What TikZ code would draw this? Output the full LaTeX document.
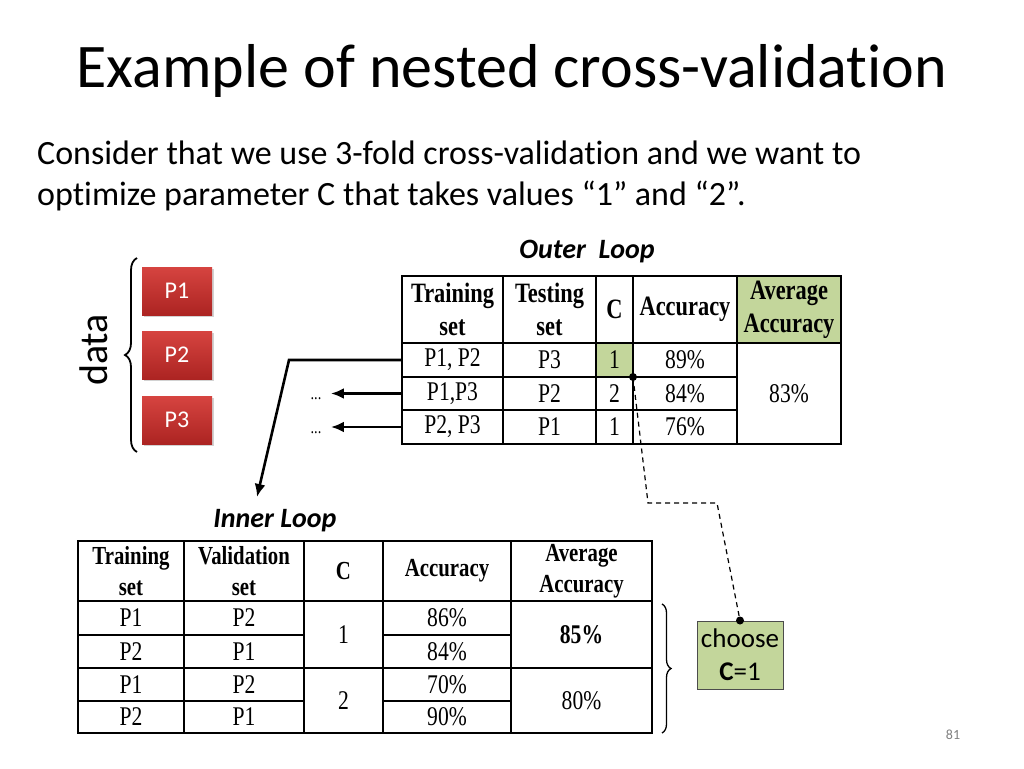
\documentclass[tikz,border=0pt]{standalone}
\usepackage{fontspec}
\setmainfont{Carlito}[Ligatures=NoCommon]
\newfontfamily\tabfont[FakeStretch=0.8]{Liberation Serif}
\usetikzlibrary{arrows.meta,decorations.pathreplacing,shadows}
\definecolor{cellgreen}{RGB}{195,214,155}
\definecolor{ptop}{RGB}{214,68,64}
\definecolor{pbot}{RGB}{172,36,34}
\begin{document}
\begin{tikzpicture}[x=1pt,y=-1pt,
  cell/.style={draw, line width=2pt, outer sep=0pt, inner sep=0pt, anchor=north west, align=center},
  ohd/.style={cell, font=\tabfont\fontsize{28}{33}\selectfont\bfseries},
  ihd/.style={cell, font=\tabfont\fontsize{26}{31}\selectfont\bfseries},
  bd/.style={cell, font=\tabfont\fontsize{27}{30}\selectfont},
  pbox/.style={minimum width=70pt, minimum height=48pt, top color=ptop, bottom color=pbot,
     text=white, font=\fontsize{24}{26}\selectfont,
     drop shadow={shadow xshift=1.5pt, shadow yshift=-2pt, opacity=0.35}},
  arr/.style={line width=2.6pt, -{Latex[length=13pt,width=11pt]}},
  dotline/.style={line width=1.2pt, dash pattern=on 5pt off 4pt},
  looplabel/.style={font=\bfseries\itshape\fontsize{28}{30}\selectfont},
  dots/.style={font=\tabfont\fontsize{18}{20}\selectfont}
]
\useasboundingbox[fill=white] (0,0) rectangle (1024,768);

% title and text
\node[anchor=base, font=\fontsize{62}{66}\selectfont] (title) at (512,87) {Example of nested cross-validation};
\node[anchor=base west, inner sep=0pt, font=\fontsize{34}{38}\selectfont] (l1) at (37,164) {Consider that we use 3-fold cross-validation and we want to};
\node[anchor=base west, inner sep=0pt, font=\fontsize{34}{38}\selectfont] (l2) at (37,205) {optimize parameter C that takes values “1” and “2”.};

% data
\node[pbox] (p1) at (177,291) {P1};
\node[pbox] (p2) at (177,355) {P2};
\node[pbox] (p3) at (177,420) {P3};
\draw[decorate, decoration={brace, amplitude=12pt}, line width=1.8pt] (137,452) -- (137,258);
\node[rotate=90, font=\fontsize{40}{44}\selectfont] (data) at (94,350) {data};

% outer loop
\node[looplabel] (outl) at (587,252) {Outer~ Loop};
\node[ohd, minimum width=101pt, minimum height=67pt] (oh1) at (402,276) {Training\\set};
\node[ohd, minimum width=93pt, minimum height=67pt] (oh2) at (503,276) {Testing\\set};
\node[ohd, minimum width=37pt, minimum height=67pt] (oh3) at (596,276) {C};
\node[ohd, minimum width=104pt, minimum height=67pt] (oh4) at (633,276) {Accuracy};
\node[ohd, fill=cellgreen, minimum width=104pt, minimum height=67pt] (oh5) at (737,276) {Average\\Accuracy};

\node[bd, minimum width=101pt, minimum height=34pt] (oTr1) at (402,343) {P1, P2};
\node[bd, minimum width=93pt, minimum height=34pt] (oTe1) at (503,343) {P3};
\node[bd, fill=cellgreen, minimum width=37pt, minimum height=34pt] (oC1) at (596,343) {1};
\node[bd, minimum width=104pt, minimum height=34pt] (oA1) at (633,343) {89\%};

\node[bd, minimum width=101pt, minimum height=33pt] (oTr2) at (402,377) {P1,P3};
\node[bd, minimum width=93pt, minimum height=33pt] (oTe2) at (503,377) {P2};
\node[bd, minimum width=37pt, minimum height=33pt] (oC2) at (596,377) {2};
\node[bd, minimum width=104pt, minimum height=33pt] (oA2) at (633,377) {84\%};

\node[bd, minimum width=101pt, minimum height=34pt] (oTr3) at (402,410) {P2, P3};
\node[bd, minimum width=93pt, minimum height=34pt] (oTe3) at (503,410) {P1};
\node[bd, minimum width=37pt, minimum height=34pt] (oC3) at (596,410) {1};
\node[bd, minimum width=104pt, minimum height=34pt] (oA3) at (633,410) {76\%};

\node[bd, minimum width=104pt, minimum height=101pt] (oAvg) at (737,343) {83\%};

% arrows from outer table
\coordinate (bend) at (289,360);
\coordinate (inend) at (257,497);
\draw[arr] (oTr1.west) -- (bend) -- (inend);
\node[dots] (d2) at (316,399) {...};
\node[dots] (d3) at (316,433) {...};
\draw[arr, shorten >=6pt] (oTr2.west) -- (oTr2.west -| d2.east);
\draw[arr, shorten >=6pt] (oTr3.west) -- (oTr3.west -| d3.east);

% inner loop
\node[looplabel] (inl) at (275,521) {Inner Loop};
\node[ihd, minimum width=106pt, minimum height=60pt] (ih1) at (78,541) {Training\\set};
\node[ihd, minimum width=120pt, minimum height=60pt] (ih2) at (184,541) {Validation\\set};
\node[ihd, minimum width=79pt, minimum height=60pt] (ih3) at (304,541) {C};
\node[ihd, minimum width=128pt, minimum height=60pt] (ih4) at (383,541) {Accuracy};
\node[ihd, minimum width=141pt, minimum height=60pt] (ih5) at (511,541) {Average\\Accuracy};

\node[bd, minimum width=106pt, minimum height=34pt] (iTr1) at (78,601) {P1};
\node[bd, minimum width=120pt, minimum height=34pt] (iVa1) at (184,601) {P2};
\node[bd, minimum width=128pt, minimum height=34pt] (iA1) at (383,601) {86\%};
\node[bd, minimum width=106pt, minimum height=33pt] (iTr2) at (78,635) {P2};
\node[bd, minimum width=120pt, minimum height=33pt] (iVa2) at (184,635) {P1};
\node[bd, minimum width=128pt, minimum height=33pt] (iA2) at (383,635) {84\%};
\node[bd, minimum width=106pt, minimum height=33pt] (iTr3) at (78,668) {P1};
\node[bd, minimum width=120pt, minimum height=33pt] (iVa3) at (184,668) {P2};
\node[bd, minimum width=128pt, minimum height=33pt] (iA3) at (383,668) {70\%};
\node[bd, minimum width=106pt, minimum height=32pt] (iTr4) at (78,701) {P2};
\node[bd, minimum width=120pt, minimum height=32pt] (iVa4) at (184,701) {P1};
\node[bd, minimum width=128pt, minimum height=32pt] (iA4) at (383,701) {90\%};

\node[bd, minimum width=79pt, minimum height=67pt] (iC1) at (304,601) {1};
\node[bd, minimum width=79pt, minimum height=65pt] (iC2) at (304,668) {2};
\node[bd, minimum width=141pt, minimum height=67pt] (iAv1) at (511,601) {\textbf{85\%}};
\node[bd, minimum width=141pt, minimum height=65pt] (iAv2) at (511,668) {80\%};

\draw[decorate, decoration={brace, amplitude=9pt}, line width=1.3pt] (662,604) -- (662,733);

% choose
\node[draw=black!70, line width=1pt, fill=cellgreen, minimum width=86pt, minimum height=68pt,
  align=center, inner sep=0pt, font=\fontsize{27}{33}\selectfont] (ch) at (740,655) {choose\\\textbf{C}=1};
\coordinate (k1) at (648,503);
\coordinate (k2) at (717,503);
\draw[dotline] (oC1.south east) -- (k1) -- (k2) -- (ch.north);
\fill (oC1.south east) circle (4pt);
\fill (ch.north) circle (4pt);

\node[text=gray, font=\fontsize{14}{16}\selectfont] (pg) at (953,735) {81};
\end{tikzpicture}
\end{document}
